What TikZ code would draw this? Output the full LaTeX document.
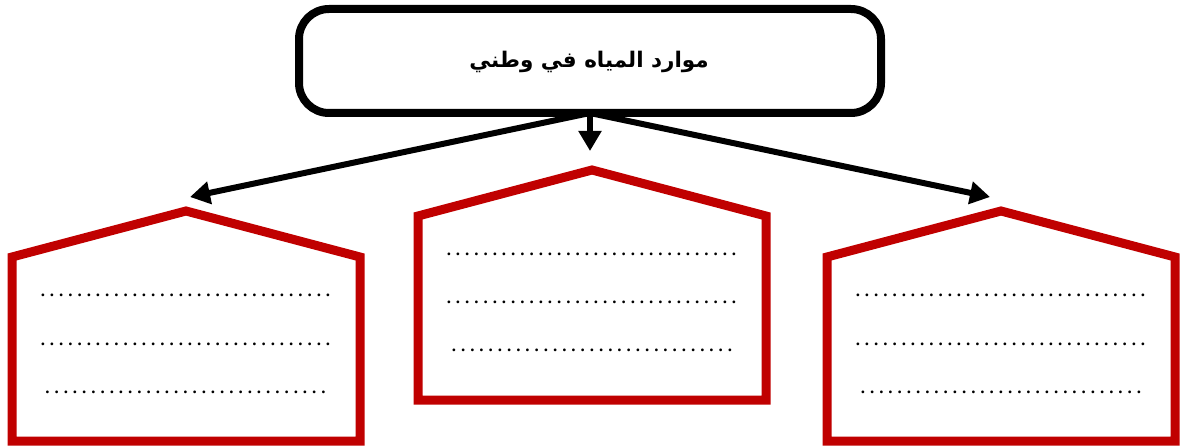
\documentclass[tikz,border=0pt]{standalone}
\usepackage{fontspec}
\setmainfont{Liberation Serif}
\newfontfamily\arabicfont[Script=Arabic]{DejaVu Sans}
\TeXXeTstate=1
\usetikzlibrary{arrows.meta}
\definecolor{housered}{HTML}{C00000}
\newcommand\dotrow[1]{\hbox to #1{\cleaders\hbox to 9.2pt{\hss.\hss}\hfill}}
\tikzset{
  housebox/.style={draw=housered, line width=9pt, line join=miter, fill=white},
  titlebox/.style={draw=black, line width=8pt, rounded corners=30pt, fill=white},
  conn/.style={draw=black, line width=6pt, -{Triangle[length=20pt,width=22pt]}},
  dotline/.style={inner sep=0pt, anchor=base, font=\bfseries\fontsize{17}{17}\selectfont}
}
\begin{document}
\begin{tikzpicture}[x=1pt,y=-1pt]
\useasboundingbox (0,0) rectangle (1180,446);
% title box
\draw[titlebox] (299,9) rectangle (881,113);
\node[inner sep=0pt] (title) at (589,62) {\arabicfont\bfseries\fontsize{21.5}{26}\selectfont\beginR موارد المياه في وطني\endR};
\coordinate (src) at (590,113);
\coordinate (tl) at (190,197);
\coordinate (tc) at (590,151);
\coordinate (tr) at (990,197);
\draw[conn] (src) -- (tl);
\draw[conn] (src) -- (tr);
\draw[conn] (src) -- (tc);
% houses
\draw[housebox] (12,257) -- (186,211) -- (360,257) -- (360,441) -- (12,441) -- cycle;
\draw[housebox] (418,216) -- (592,170) -- (766,216) -- (766,400) -- (418,400) -- cycle;
\draw[housebox] (827,257) -- (1001,211) -- (1175,257) -- (1175,441) -- (827,441) -- cycle;
% dotted lines
\node[dotline] (l1) at (185.5,297) {\dotrow{295pt}};
\node[dotline] (l2) at (185.5,345) {\dotrow{295pt}};
\node[dotline] (l3) at (185.5,393) {\dotrow{286pt}};
\node[dotline] (c1) at (591.5,255) {\dotrow{295pt}};
\node[dotline] (c2) at (591.5,303) {\dotrow{295pt}};
\node[dotline] (c3) at (592,351) {\dotrow{286pt}};
\node[dotline] (r1) at (1000.5,297) {\dotrow{295pt}};
\node[dotline] (r2) at (1000.5,345) {\dotrow{295pt}};
\node[dotline] (r3) at (1001,393) {\dotrow{286pt}};
\end{tikzpicture}
\end{document}
